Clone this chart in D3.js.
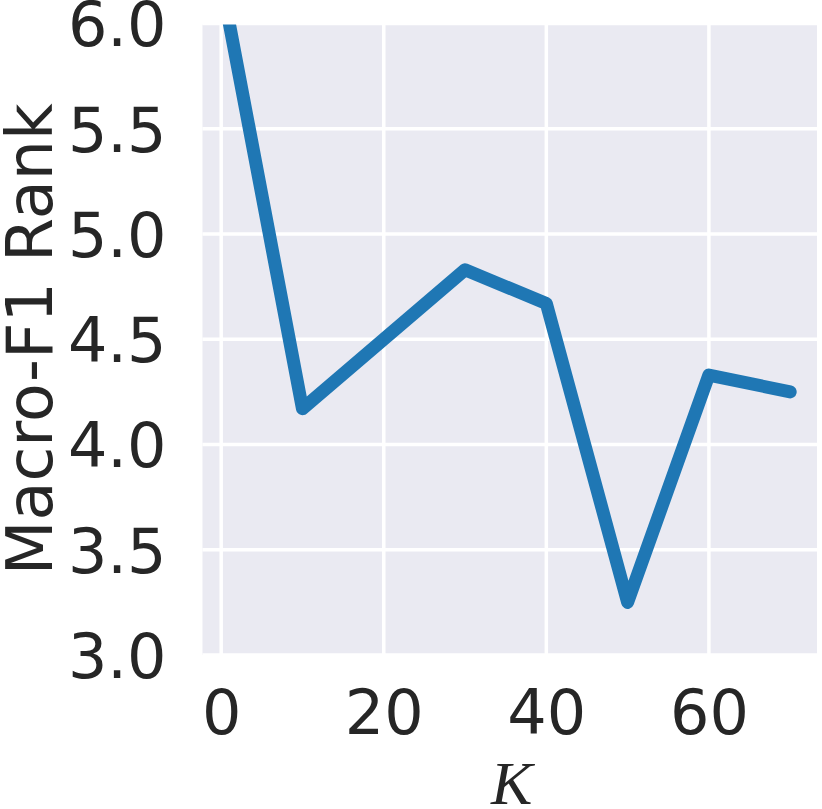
<!DOCTYPE html>
<html>
<head>
<meta charset="utf-8">
<script src="https://cdn.jsdelivr.net/npm/d3@7"></script>
<style>
  html, body { margin: 0; padding: 0; background: #ffffff; }
  svg { display: block; }
</style>
</head>
<body>
<div id="chart"></div>
<script>
// Data
const kValues = [1, 10, 20, 30, 40, 50, 60, 70];
const rankValues = [6.0, 4.17, 4.5, 4.83, 4.67, 3.25, 4.33, 4.25];
const xTicks = [0, 20, 40, 60];
const yTicks = [3.0, 3.5, 4.0, 4.5, 5.0, 5.5, 6.0];
const yLabel = "Macro-F1 Rank";
const xLabel = "K";

const W = 822, H = 809;
const plot = { left: 202.5, right: 817, top: 23.5, bottom: 655 };

const svg = d3.select("#chart").append("svg")
  .attr("width", W).attr("height", H);

const x = d3.scaleLinear().domain([-2.3, 73.3]).range([plot.left, plot.right]);
const y = d3.scaleLinear().domain([3.0, 6.0]).range([plot.bottom, plot.top]);

// Background
svg.append("rect")
  .attr("x", plot.left).attr("y", plot.top + 1)
  .attr("width", plot.right - plot.left).attr("height", plot.bottom - plot.top - 1)
  .attr("fill", "#EAEAF2");

// Grid lines
const grid = svg.append("g");
grid.selectAll("line.v").data(xTicks).enter().append("line")
  .attr("x1", d => x(d)).attr("x2", d => x(d))
  .attr("y1", plot.top + 1).attr("y2", plot.bottom)
  .attr("stroke", "#ffffff").attr("stroke-width", 3.5);
grid.selectAll("line.h").data(yTicks).enter().append("line")
  .attr("x1", plot.left).attr("x2", plot.right)
  .attr("y1", d => y(d)).attr("y2", d => y(d))
  .attr("stroke", "#ffffff").attr("stroke-width", 3.5);

// Clip
svg.append("clipPath").attr("id", "clip").append("rect")
  .attr("x", plot.left).attr("y", plot.top + 1)
  .attr("width", plot.right - plot.left).attr("height", plot.bottom - plot.top - 1);

const line = d3.line().x((d, i) => x(kValues[i])).y(d => y(d));
svg.append("path")
  .attr("clip-path", "url(#clip)")
  .attr("d", line(rankValues))
  .attr("fill", "none")
  .attr("stroke", "#1f77b4")
  .attr("stroke-width", 13)
  .attr("stroke-linejoin", "round")
  .attr("stroke-linecap", "round");

// Axes (tick labels only)
const font = "DejaVu Sans, sans-serif";
const xAxis = d3.axisBottom(x).tickValues(xTicks).tickSize(0).tickPadding(0).tickFormat(d3.format("d"));
const gx = svg.append("g").attr("transform", `translate(0, ${plot.bottom})`).call(xAxis);
gx.select(".domain").remove();
gx.selectAll("text")
  .attr("y", 79).attr("dy", null)
  .attr("font-family", font).attr("font-size", 62).attr("fill", "#262626");

const yAxis = d3.axisLeft(y).tickValues(yTicks).tickSize(0).tickPadding(0).tickFormat(d3.format(".1f"));
const gy = svg.append("g").attr("transform", `translate(${plot.left}, 0)`).call(yAxis);
gy.select(".domain").remove();
gy.selectAll("text")
  .attr("x", -36).attr("dy", "0.36em")
  .attr("font-family", font).attr("font-size", 62).attr("fill", "#262626");

// Axis labels
svg.append("text")
  .attr("transform", `translate(52, ${(plot.top + plot.bottom) / 2}) rotate(-90)`)
  .attr("text-anchor", "middle")
  .attr("font-family", font).attr("font-size", 63.5).attr("fill", "#262626")
  .text(yLabel);

svg.append("text")
  .attr("x", (plot.left + plot.right) / 2 + 2).attr("y", 804)
  .attr("text-anchor", "middle")
  .attr("font-family", "Liberation Serif, DejaVu Serif, serif")
  .attr("font-style", "italic")
  .attr("font-size", 62).attr("fill", "#262626")
  .text(xLabel);
</script>
</body>
</html>
